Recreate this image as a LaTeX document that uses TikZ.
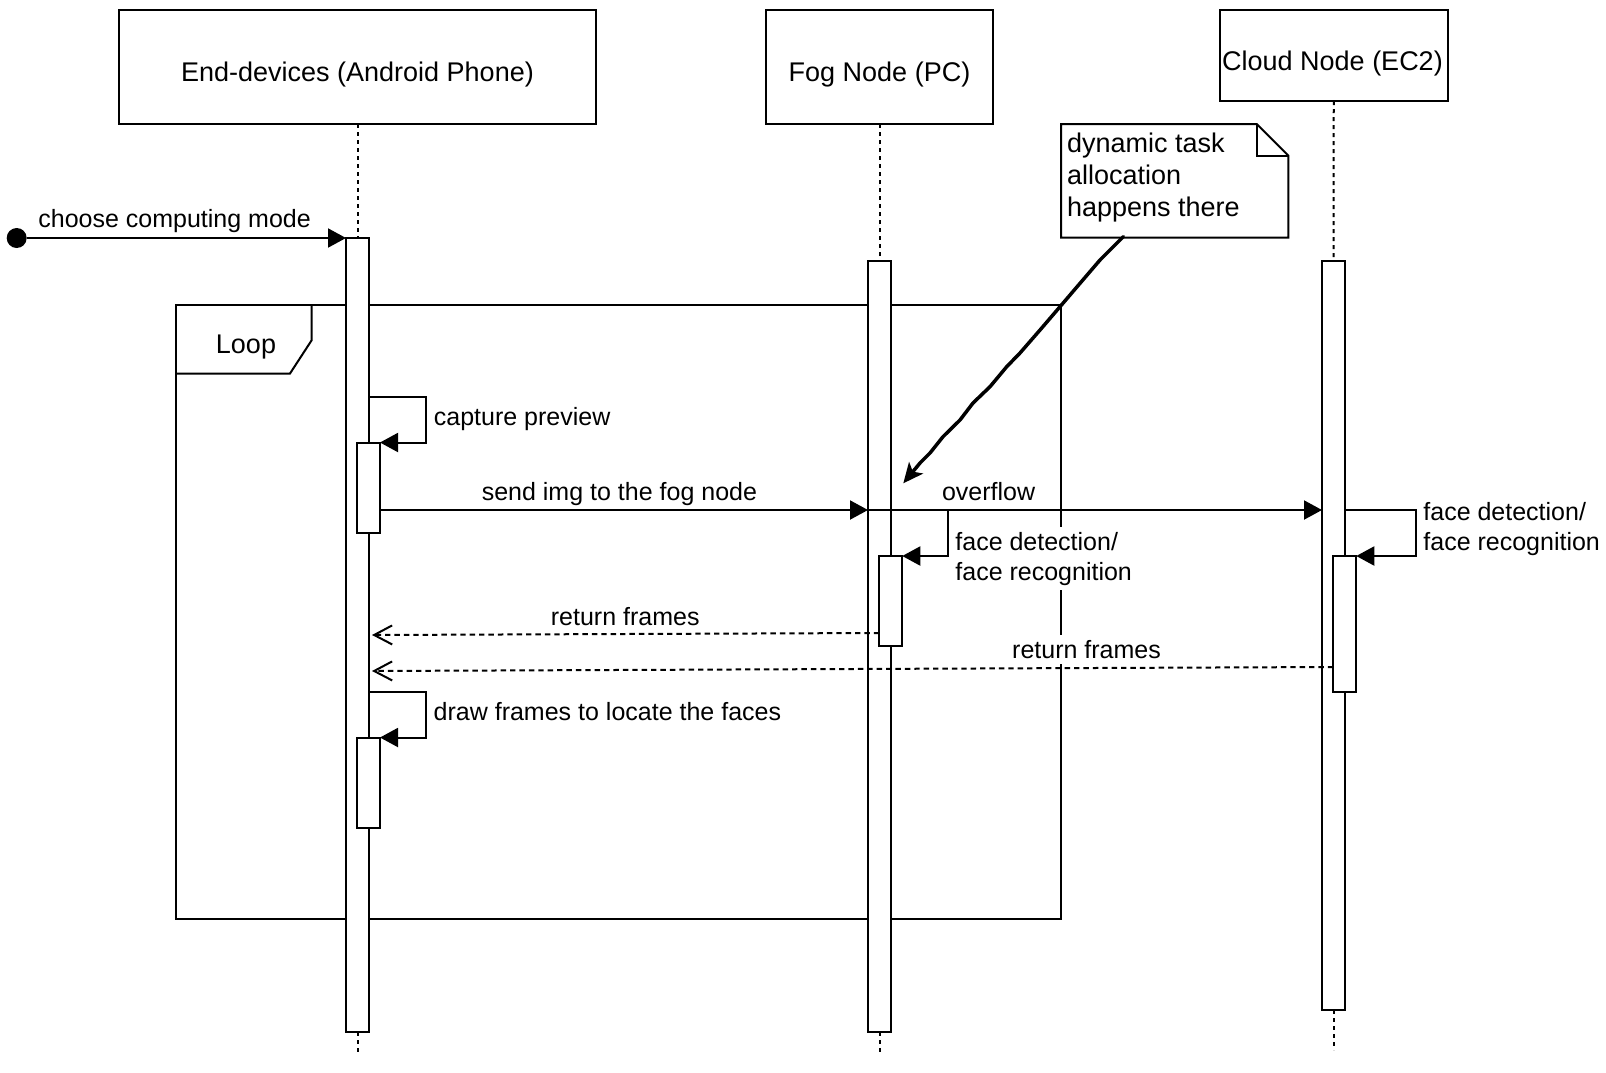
\documentclass[tikz,border=0pt]{standalone}
\usepackage{fontspec}
\setmainfont{Liberation Sans}
\usetikzlibrary{arrows.meta}
\newcommand\msgfont{\fontsize{12.5}{15}\selectfont}
\newcommand\hdrfont{\fontsize{13.5}{15.85}\selectfont}
\begin{document}
\begin{tikzpicture}[x=0.5pt,y=-0.5pt,
  hdr/.style={draw,line width=1pt,inner sep=0pt,outer sep=0pt,minimum width=113.75pt,minimum height=57pt},
  hdrtext/.style={anchor=base,inner sep=0pt,font=\hdrfont},
  actbar/.style={draw,fill=white,line width=1pt,inner sep=0pt,outer sep=0pt,minimum width=11.5pt},
  life/.style={line width=1pt,dash pattern=on 2pt off 2pt},
  msg/.style={line width=1pt,-{Triangle[length=9pt,width=9.5pt]}},
  ret/.style={line width=1pt,dash pattern=on 2.7pt off 2pt,-{Straight Barb[length=9pt,width=9.5pt]}},
  lbl/.style={anchor=base west,inner sep=0pt,font=\msgfont,align=left},
  masked/.style={fill=white,inner ysep=2.5pt},
  loopline/.style={line width=1pt},
  notetext/.style={anchor=base west,inner sep=0pt,font=\hdrfont,align=left},
]
\useasboundingbox (0,0) rectangle (1606,1072);
\fill[white] (0,0) rectangle (1606,1072);

% loop frame
\draw[loopline] (176,305) rectangle (1061,919);
\draw[loopline] (176,373.5) -- (290,373.5) -- (311.5,340.5) -- (311.5,305);
\node[hdrtext] (looplbl) at (246,353.3) {Loop};

% headers
\node[hdr,minimum width=238.5pt] (endh) at (357.5,67) {};
\node[hdr] (fogh) at (879.5,67) {};
\node[hdr,minimum height=45.5pt] (cloudh) at (1333.75,55.5) {};
\node[hdrtext] (endt) at (357.5,81.5) {End-devices (Android Phone)};
\node[hdrtext] (fogt) at (879.5,81.5) {Fog Node (PC)};
\node[hdrtext] (cloudt) at (1332.5,70) {Cloud Node (EC2)};

% lifeline ends
\coordinate (endend) at (357.5,1055);
\coordinate (fogend) at (879.5,1055);
\coordinate (cloudend) at (1333.5,1050);

% activation bars
\node[actbar,minimum height=397pt] (endbar) at (357.5,635) {};
\node[actbar,minimum height=385.5pt] (fogbar) at (879.5,646.5) {};
\node[actbar,minimum height=374.5pt] (cloudbar) at (1333.5,635.5) {};

\draw[life] (endh.south) -- (endbar.north);
\draw[life] (endbar.south) -- (endend);
\draw[life] (fogh.south) -- (fogbar.north);
\draw[life] (fogbar.south) -- (fogend);
\draw[life] (cloudh.south) -- (cloudbar.north);
\draw[life] (cloudbar.south) -- (cloudend);

\node[actbar,minimum height=45.25pt] (sb1) at (368.5,487.75) {};
\node[actbar,minimum height=45.25pt] (sb2) at (368.5,782.75) {};
\node[actbar,minimum height=45pt] (fsb) at (890.75,601) {};
\node[actbar,minimum height=68pt] (csb) at (1344.75,624) {};

% initial message
\node[circle,fill=black,inner sep=0pt,minimum size=10pt] (dot) at (16.7,238) {};
\draw[msg] (dot) -- (endbar.north west);

% messages
\draw[msg] (endbar.east |- 0,397) -- ++(56.5,0) |- (sb1.north east);
\draw[msg] (sb1.east |- 0,510) -- (fogbar.west |- 0,510);
\draw[msg] (fogbar.west |- 0,510) -- (cloudbar.west |- 0,510);
\draw[msg] (fogbar.east |- 0,510) -- ++(57,0) |- (fsb.north east);
\draw[msg] (cloudbar.east |- 0,510) -- ++(71,0) |- (csb.north east);
\coordinate (rf) at (372,635);
\coordinate (rc) at (372,671);
\draw[ret] (fsb.west |- 0,633) -- (rf);
\draw[ret] (csb.west |- 0,667) -- (rc);
\draw[msg] (endbar.east |- 0,692) -- ++(56.5,0) |- (sb2.north east);

% labels
\node[lbl] (l0) at (38,227.7) {choose computing mode};
\node[lbl] (l1) at (433.5,425.7) {capture preview};
\node[lbl] (l2) at (481.4,500.7) {send img to the fog node};
\node[lbl] (l3) at (941.6,500.7) {overflow};
\node[lbl,masked] (l4) at (955,580) {face detection/\\face recognition};
\node[lbl] (l5) at (1423,550) {face detection/\\face recognition};
\node[lbl] (l6) at (550.5,625) {return frames};
\node[lbl,masked] (l7) at (1011.8,658.3) {return frames};
\node[lbl] (l8) at (433.3,720.7) {draw frames to locate the faces};

% note
\draw[line width=1pt,fill=white] (1061,124) -- (1256.7,124) -- (1288.3,155.5) -- (1288.3,237.7) -- (1061,237.7) -- cycle;
\draw[line width=1pt] (1256.7,124) -- (1256.7,155.5) -- (1288.3,155.5);
\node[notetext] (note) at (1066.7,216.1) {dynamic task\\allocation\\happens there};
\coordinate (nb) at (1123.3,236.7);
\coordinate (tgt) at (903.3,483.3);
\draw[line width=1.75pt,line join=round,line cap=round,-{Stealth[length=10pt,width=9pt,inset=2.5pt]}]
  (nb) -- (1100,260) -- (1080,283.3) -- (1060,306.7) -- (1040,330) -- (1020,353) -- (1006.7,366.7) -- (990,386.7) -- (973,403) -- (960,420) -- (943,436.7) -- (930,453) -- (920,463) -- (tgt);
\end{tikzpicture}
\end{document}
